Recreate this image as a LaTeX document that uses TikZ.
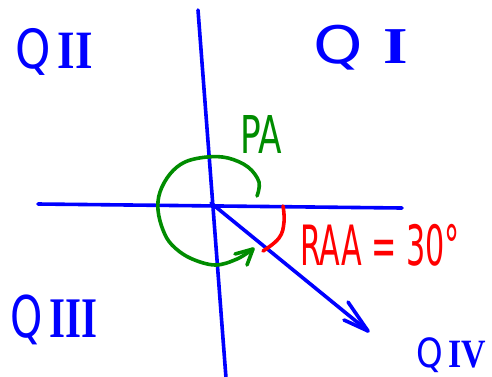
\documentclass[tikz,border=0pt]{standalone}
\usepackage{fontspec}
\setmainfont{DejaVu Sans}
\newfontfamily\numfont{Liberation Serif}
\usepackage{graphicx}
\definecolor{pblue}{RGB}{0,0,255}
\definecolor{pgreen}{RGB}{0,140,0}
\definecolor{pred}{RGB}{255,0,0}
\begin{document}
\begin{tikzpicture}[x=1pt,y=-1pt,
  axisline/.style={pblue,line width=3.6pt,line cap=round,line join=round},
  greenline/.style={pgreen,line width=3.6pt,line cap=round,line join=round},
  redline/.style={pred,line width=3.6pt,line cap=round,line join=round},
  lbl/.style={anchor=north west,inner sep=0pt,outer sep=0pt}]
\useasboundingbox (0,0) rectangle (492,376);
\clip (0,0) rectangle (492,376);
% axes
\coordinate (vtop) at (198,10);
\coordinate (vbot) at (226,378);
\coordinate (hleft) at (38,204);
\coordinate (hright) at (402,208);
\coordinate (O) at (211,203);
\coordinate (tip) at (368,331);
\coordinate (barbA) at (348,302);
\coordinate (barbB) at (344,320);
\draw[axisline] (vtop) -- (vbot);
\draw[axisline] (hleft) -- (hright);
\draw[axisline] (O) -- (tip);
\draw[axisline] (barbA) -- (tip) -- (barbB);
% green PA arc
\coordinate (gtip) at (253,249);
\coordinate (gb1) at (235,254);
\coordinate (gb2) at (247,265);
\draw[greenline] plot[smooth,tension=0.6] coordinates {(257,196) (259,182) (248,167) (228,158) (207,157) (185,162) (170,174) (160,192) (158,210) (163,230) (172,245) (190,258) (215,265) (237,259) (253,249)};
\draw[greenline] (gb1) -- (gtip) -- (gb2);
% red RAA arc
\draw[redline] plot[smooth,tension=0.7] coordinates {(283,206) (284,222) (279,238) (263,251)};
% labels
\node[lbl,text=pblue] (q2) at (15,28) {\resizebox*{78pt}{47pt}{Q\,{\numfont\bfseries II}}};
\node[lbl,text=pblue] (q1) at (313,25) {\resizebox*{95pt}{45pt}{Q\,\,{\numfont\bfseries I}}};
\node[lbl,text=pblue] (q3) at (10,295) {\resizebox*{87pt}{50pt}{Q\,{\numfont\bfseries III}}};
\node[lbl,text=pblue] (q4) at (416,338) {\resizebox*{70pt}{35pt}{Q\,{\numfont\bfseries IV}}};
\node[lbl,text=pgreen] (pa) at (240,115) {\resizebox*{42pt}{38pt}{PA}};
\node[lbl,text=pred] (raa) at (300,224) {\resizebox*{160pt}{42pt}{RAA = 30°}};
\end{tikzpicture}
\end{document}
